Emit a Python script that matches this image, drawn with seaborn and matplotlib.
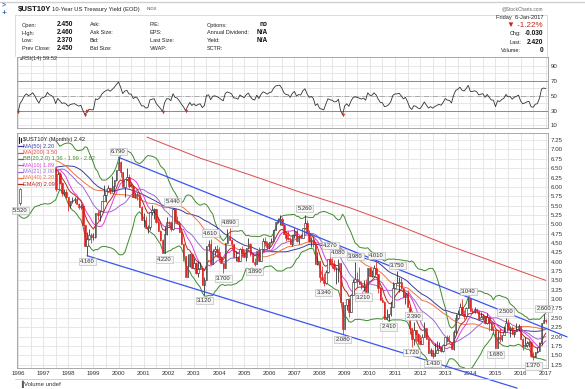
import numpy as np
import pandas as pd
import matplotlib
matplotlib.use("Agg")
import matplotlib.pyplot as plt
from matplotlib.lines import Line2D
import seaborn as sns

# %% data
# monthly closes before the drawn bars, only used to warm up the indicators (Jan 1993 - Jun 1997)
hist_close = [
    6.39, 6.03, 6.03, 6.05, 6.16, 5.80, 5.81, 5.45, 5.38, 5.43, 5.82, 5.79,
    5.75, 6.24, 6.74, 7.04, 7.15, 7.32, 7.11, 7.17, 7.60, 7.81, 7.91, 7.82,
    7.58, 7.20, 7.20, 7.06, 6.28, 6.20, 6.43, 6.28, 6.17, 6.02, 5.74, 5.57,
    5.58, 6.10, 6.33, 6.67, 6.85, 6.71, 6.79, 6.94, 6.72, 6.37, 6.06, 6.42,
    6.49, 6.55, 6.90, 6.72, 6.66, 6.50,
]
# the lone bar of Feb 1996: open, high, low, close
bar96 = [5.58, 5.98, 5.52, 5.95]

# monthly bars Jul 1997 - Jan 2017
close = [
    5.95, 6.34, 6.10, 5.83, 5.87, 5.74,
    5.51, 5.62, 5.65, 5.67, 5.55, 5.45, 5.49, 4.98, 4.42, 4.61, 4.71, 4.65,
    4.65, 5.29, 5.24, 5.35, 5.62, 5.78, 5.90, 5.97, 5.88, 6.02, 6.19, 6.44,
    6.67, 6.41, 6.00, 6.21, 6.27, 6.03, 6.03, 5.72, 5.80, 5.75, 5.47, 5.11,
    5.11, 4.90, 4.92, 5.34, 5.38, 5.41, 5.05, 4.83, 4.59, 4.23, 4.75, 5.05,
    5.03, 4.88, 5.40, 5.09, 5.04, 4.80, 4.46, 4.14, 3.60, 3.89, 4.21, 3.82,
    3.96, 3.69, 3.80, 3.84, 3.37, 3.52, 4.41, 4.46, 3.94, 4.29, 4.33, 4.25,
    4.13, 3.97, 3.84, 4.51, 4.65, 4.58, 4.48, 4.12, 4.12, 4.02, 4.35, 4.22,
    4.13, 4.36, 4.48, 4.20, 4.00, 3.94, 4.28, 4.02, 4.33, 4.56, 4.49, 4.39,
    4.52, 4.55, 4.85, 5.07, 5.12, 5.14, 4.99, 4.73, 4.63, 4.61, 4.46, 4.70,
    4.83, 4.56, 4.65, 4.63, 4.89, 5.03, 4.77, 4.54, 4.59, 4.48, 3.94, 4.03,
    3.59, 3.51, 3.43, 3.73, 4.06, 3.97, 3.95, 3.82, 3.83, 3.96, 2.92, 2.21,
    2.84, 3.01, 2.66, 3.12, 3.47, 3.53, 3.48, 3.40, 3.31, 3.39, 3.20, 3.83,
    3.61, 3.61, 3.83, 3.66, 3.29, 2.97, 2.91, 2.47, 2.51, 2.60, 2.80, 3.29,
    3.42, 3.42, 3.47, 3.29, 3.05, 3.16, 2.80, 2.22, 1.92, 2.17, 2.08, 1.88,
    1.80, 1.98, 2.22, 1.92, 1.56, 1.65, 1.47, 1.56, 1.63, 1.69, 1.61, 1.76,
    1.99, 1.88, 1.85, 1.67, 2.13, 2.49, 2.60, 2.78, 2.61, 2.55, 2.75, 3.04,
    2.67, 2.66, 2.73, 2.67, 2.48, 2.53, 2.56, 2.35, 2.52, 2.35, 2.18, 2.17,
    1.68, 2.00, 1.94, 2.05, 2.12, 2.35, 2.20, 2.22, 2.06, 2.16, 2.21, 2.27,
    1.94, 1.74, 1.78, 1.83, 1.85, 1.49, 1.46, 1.58, 1.60, 1.83, 2.37, 2.45,
    2.42,
]
high = [
    6.52, 6.40, 6.40, 6.12, 5.95, 5.93,
    5.74, 5.63, 5.74, 5.72, 5.73, 5.58, 5.53, 5.49, 4.98, 4.79, 4.88, 4.78,
    4.78, 5.29, 5.37, 5.37, 5.62, 6.06, 5.90, 6.04, 5.97, 6.30, 6.19, 6.44,
    6.79, 6.70, 6.41, 6.21, 6.50, 6.34, 6.10, 6.05, 5.86, 5.86, 5.81, 5.50,
    5.29, 5.21, 4.98, 5.34, 5.52, 5.43, 5.41, 5.17, 4.84, 4.60, 4.96, 5.20,
    5.10, 5.08, 5.44, 5.42, 5.22, 5.08, 4.88, 4.46, 4.16, 4.21, 4.21, 4.22,
    4.10, 4.00, 4.01, 4.00, 3.88, 3.58, 4.41, 4.59, 4.61, 4.33, 4.42, 4.45,
    4.38, 4.16, 3.97, 4.51, 4.87, 4.89, 4.61, 4.48, 4.28, 4.16, 4.36, 4.42,
    4.30, 4.36, 4.64, 4.50, 4.22, 4.10, 4.29, 4.39, 4.33, 4.64, 4.66, 4.55,
    4.52, 4.62, 4.85, 5.07, 5.18, 5.24, 5.20, 5.00, 4.81, 4.81, 4.65, 4.71,
    4.90, 4.88, 4.65, 4.74, 4.89, 5.26, 5.12, 4.85, 4.65, 4.69, 4.48, 4.25,
    4.03, 3.88, 3.70, 3.79, 4.06, 4.27, 4.10, 4.04, 3.87, 4.08, 3.96, 2.92,
    2.84, 3.01, 3.03, 3.12, 3.54, 3.98, 3.73, 3.85, 3.49, 3.52, 3.53, 3.84,
    3.85, 3.77, 3.90, 4.01, 3.66, 3.33, 3.06, 2.95, 2.74, 2.60, 2.93, 3.47,
    3.44, 3.75, 3.58, 3.57, 3.29, 3.16, 3.23, 2.80, 2.22, 2.39, 2.17, 2.09,
    2.05, 2.06, 2.38, 2.22, 1.96, 1.69, 1.65, 1.83, 1.87, 1.85, 1.74, 1.80,
    2.00, 2.04, 2.05, 1.86, 2.17, 2.61, 2.71, 2.90, 2.99, 2.70, 2.79, 3.04,
    3.03, 2.75, 2.80, 2.73, 2.66, 2.65, 2.59, 2.56, 2.63, 2.45, 2.39, 2.28,
    2.17, 2.15, 2.24, 2.05, 2.29, 2.50, 2.47, 2.28, 2.29, 2.16, 2.36, 2.33,
    2.27, 1.97, 1.98, 1.89, 1.87, 1.87, 1.58, 1.58, 1.73, 1.85, 2.37, 2.60,
    2.46,
]
low = [
    5.90, 5.93, 6.08, 5.76, 5.78, 5.71,
    5.36, 5.43, 5.57, 5.56, 5.53, 5.42, 5.40, 4.98, 4.42, 4.16, 4.59, 4.50,
    4.57, 4.62, 5.11, 5.08, 5.35, 5.62, 5.60, 5.85, 5.80, 5.85, 5.86, 6.16,
    6.44, 6.26, 6.00, 5.74, 6.20, 5.98, 5.99, 5.72, 5.69, 5.64, 5.47, 5.11,
    4.92, 4.90, 4.77, 4.86, 5.25, 5.14, 5.03, 4.83, 4.55, 4.23, 4.22, 4.72,
    4.95, 4.82, 4.85, 5.06, 5.02, 4.80, 4.46, 4.03, 3.60, 3.59, 3.87, 3.82,
    3.80, 3.66, 3.59, 3.80, 3.37, 3.12, 3.52, 4.30, 3.94, 3.93, 4.19, 4.12,
    4.00, 3.97, 3.70, 3.84, 4.50, 4.58, 4.35, 4.12, 4.02, 3.98, 4.01, 4.13,
    4.12, 4.01, 4.34, 4.16, 3.98, 3.89, 3.93, 4.02, 4.01, 4.32, 4.42, 4.33,
    4.33, 4.51, 4.54, 4.85, 5.03, 4.97, 4.99, 4.73, 4.56, 4.58, 4.46, 4.43,
    4.62, 4.52, 4.46, 4.63, 4.63, 4.88, 4.76, 4.52, 4.38, 4.39, 3.94, 3.91,
    3.45, 3.51, 3.34, 3.41, 3.69, 3.97, 3.83, 3.76, 3.41, 3.47, 2.92, 2.08,
    2.21, 2.72, 2.52, 2.66, 3.13, 3.47, 3.31, 3.40, 3.28, 3.21, 3.20, 3.20,
    3.61, 3.58, 3.60, 3.66, 3.17, 2.97, 2.91, 2.47, 2.51, 2.41, 2.54, 2.97,
    3.29, 3.42, 3.19, 3.29, 3.05, 2.88, 2.80, 2.08, 1.72, 1.77, 1.89, 1.80,
    1.80, 1.80, 1.98, 1.92, 1.56, 1.47, 1.43, 1.47, 1.59, 1.63, 1.59, 1.59,
    1.76, 1.86, 1.85, 1.67, 1.63, 2.08, 2.47, 2.57, 2.61, 2.47, 2.55, 2.78,
    2.67, 2.62, 2.63, 2.62, 2.45, 2.47, 2.44, 2.34, 2.34, 2.14, 2.17, 2.07,
    1.68, 1.68, 1.85, 1.87, 2.04, 2.18, 2.20, 2.00, 2.06, 1.99, 2.14, 2.15,
    1.94, 1.63, 1.73, 1.72, 1.71, 1.46, 1.37, 1.46, 1.55, 1.60, 1.78, 2.37,
    2.37,
]

# MA(200) (decimal year, value)
ma200_t = [2001.13, 2003.24, 2005.23, 2007.22, 2009.21, 2011.20, 2013.19, 2015.18, 2017.0]
ma200_v = [7.33, 6.77, 6.32, 5.86, 5.44, 4.95, 4.42, 3.94, 3.50]

# channel lines (start, end)
upper_t = [2000.0, 2017.85]
upper_v = [6.79, 1.99]
lower_t = [1998.75, 2015.86]
lower_v = [4.16, 0.62]

# labelled extremes
peak_t = [1996 + 1/12, 1998 + 9/12, 2000.0, 2001 + 10/12, 2002 + 2/12, 2003 + 5/12, 2003 + 8/12,
          2004 + 2/12, 2004 + 5/12, 2005 + 5/12, 2007 + 5/12, 2008 + 2/12, 2008 + 5/12, 2008 + 9/12,
          2008 + 11/12, 2009 + 5/12, 2009 + 9/12, 2010 + 3/12, 2010 + 9/12, 2011 + 1/12, 2011 + 8/12,
          2011 + 9/12, 2012 + 6/12, 2013 + 11/12, 2015.0, 2015 + 5/12, 2016 + 6/12, 2016 + 11/12]
peak_v = [5.52, 4.16, 6.79, 4.22, 5.44, 3.12, 4.61, 3.70, 4.89, 3.89, 5.26, 3.34, 4.27, 4.08,
          2.08, 3.98, 3.21, 4.01, 2.41, 3.75, 1.72, 2.39, 1.43, 3.04, 1.68, 2.50, 1.37, 2.60]
peak_up = [0, 0, 1, 0, 1, 0, 1, 0, 1, 0, 1, 0, 1, 1, 0, 1, 0, 1, 0, 1, 0, 1, 0, 1, 0, 1, 0, 1]

legend_rows = [
    ("MA(50) 2.20", "#3c3ca0"),
    ("MA(200) 3.50", "#e04848"),
    ("BB(20,2.0) 1.36 - 1.99 - 2.62", "#3f8a2e"),
    ("MA(10) 1.89", "#e03ee0"),
    ("MA(21) 2.00", "#9b6ad2"),
    ("MA(40) 2.20", "#ef7440"),
    ("EMA(8) 2.09", "#b8281c"),
]

# %% indicators
full = pd.Series(hist_close + close)
full_t = 1993 + np.arange(len(full)) / 12
ma10 = full.rolling(10).mean()
ma21 = full.rolling(21).mean()
ma40 = full.rolling(40).mean()
ma50 = full.rolling(50).mean()
ema8 = full.ewm(span=8, adjust=False).mean()
mid20 = full.rolling(20).mean()
sd20 = full.rolling(20).std(ddof=0)
bb_up = mid20 + 2 * sd20
bb_lo = mid20 - 2 * sd20
d = full.diff()
gain = d.clip(lower=0).ewm(alpha=1/14, adjust=False).mean()
loss = (-d.clip(upper=0)).ewm(alpha=1/14, adjust=False).mean()
rsi = 100 - 100 / (1 + gain / loss)

n0 = len(hist_close)
t = full_t[n0:]
c = np.array(close)
o = full.values[n0 - 1:-1]
h = np.maximum(np.array(high), np.maximum(o, c))
l = np.minimum(np.array(low), np.minimum(o, c))

# %% figure
W, H = 585, 389
sns.set_style("white")
plt.rcParams["font.family"] = ["Liberation Sans", "DejaVu Sans"]
fig = plt.figure(figsize=(W / 100, H / 100), dpi=100)


def fx(px):
    return px / W


def fy(py):
    return 1 - py / H


X0, X1 = 1995.96, 2017.09
ax_r = fig.add_axes([fx(17), fy(128), fx(548) - fx(17), (128 - 57) / H])
ax = fig.add_axes([fx(17), fy(368), fx(548) - fx(17), (368 - 133) / H])

for a in (ax, ax_r):
    a.set_xlim(X0, X1)
    a.set_xticks(np.arange(1996, 2018))
    a.set_xticks(np.arange(1996.5, 2017, 1), minor=True)
    a.grid(True, which="both", color="#e3e3e3", lw=0.6)
    a.set_axisbelow(True)
    for s in a.spines.values():
        s.set_color("#9a9a9a")
        s.set_linewidth(0.6)
    a.yaxis.tick_right()
    a.tick_params(length=0, labelsize=4.4, colors="#333333", pad=2)
    a.tick_params(which="minor", length=0)

# RSI panel
ax_r.set_ylim(6.5, 102)
ax_r.set_yticks([10, 30, 50, 70, 90])
ax_r.set_yticks([20, 40, 60, 80], minor=True)
ax_r.set_xticklabels([])
ax_r.axhline(70, color="#8c8c8c", lw=0.7)
ax_r.axhline(30, color="#8c8c8c", lw=0.7)
ax_r.axhline(50, color="#a0a0a0", lw=0.6, ls="-.")
sel = full_t >= 1996.0
sns.lineplot(x=full_t[sel], y=rsi[sel].values, ax=ax_r, color="#333333", lw=0.6,
             estimator=None, sort=False)
dip = sel & (rsi.values < 30)
ax_r.scatter(full_t[dip], rsi.values[dip], marker="v", s=6, color="#c0392b", zorder=4, lw=0)

# price panel
ax.set_ylim(1.158, 7.44)
ax.set_yticks(np.arange(1.25, 7.26, 0.25))
ax.set_yticklabels([f"{v:.2f}" for v in np.arange(1.25, 7.26, 0.25)])
ax.set_xticklabels([str(y) for y in range(1996, 2018)])

# bollinger lower band runs through the gap, the rest starts with the bars
g = full_t >= 1996.0
sns.lineplot(x=full_t[g], y=bb_lo[g].values, ax=ax, color="#3f8a2e", lw=0.7, estimator=None, sort=False)
s = full_t >= t[0]
for series, col in [(bb_up, "#3f8a2e"), (ma50, "#3c3ca0"), (ma40, "#ef7440"),
                    (ma21, "#9b6ad2"), (ma10, "#e03ee0"), (ema8, "#b8281c")]:
    sns.lineplot(x=full_t[s], y=series[s].values, ax=ax, color=col, lw=0.7,
                 estimator=None, sort=False, zorder=3)
sns.lineplot(x=ma200_t, y=ma200_v, ax=ax, color="#e04848", lw=0.7, estimator=None, sort=False)

# candles
bt = np.r_[1996 + 1/12, t]
bo = np.r_[bar96[0], o]
bh = np.r_[bar96[1], h]
bl = np.r_[bar96[2], l]
bc = np.r_[bar96[3], c]
up = bc >= bo
edge = np.where(up, "#222222", "#dd2020")
face = np.where(up, "#ffffff", "#dd2020")
ax.vlines(bt, bl, bh, colors=edge, lw=0.55, zorder=4)
body = np.maximum(np.abs(bc - bo), 0.012)
ax.bar(bt, body, bottom=np.minimum(bo, bc), width=0.058, color=face, edgecolor=edge,
       linewidth=0.4, zorder=5)

# channel lines, not clipped to the panel
ax.plot(upper_t, upper_v, color="#3a55f0", lw=0.9, clip_on=False, zorder=6)
ax.plot(lower_t, lower_v, color="#3a55f0", lw=0.9, clip_on=False, zorder=6)

# extreme labels
for pt, pv, pu in zip(peak_t, peak_v, peak_up):
    ax.annotate(f"{pv:.3f}", (pt, pv), xytext=(0, 4.2 if pu else -4.2), textcoords="offset points",
                ha="center", va="center", fontsize=4.2, color="#333333", zorder=7,
                bbox=dict(boxstyle="square,pad=0.2", fc="#f5f5f5", ec="#b0b0b0", lw=0.4))

# legends
fig.text(fx(23), fy(140), "$UST10Y (Monthly) 2.42", fontsize=4.1, color="#222222", va="center")
fig.add_artist(Line2D([fx(19), fx(19)], [fy(137), fy(143)], color="#222222", lw=0.8))
fig.add_artist(Line2D([fx(21), fx(21)], [fy(138), fy(142)], color="#222222", lw=0.8))
for i, (txt, col) in enumerate(legend_rows):
    yy = 146.3 + i * 6.3
    fig.add_artist(Line2D([fx(18), fx(22.5)], [fy(yy), fy(yy)], color=col, lw=0.9))
    fig.text(fx(23), fy(yy), txt, fontsize=4.1, color=col, va="center")

fig.text(fx(22.5), fy(58.5), "RSI(14) 59.52", fontsize=4.1, color="#333333", va="center")
fig.text(fx(18.5), fy(58.5), "\u25b2", fontsize=3.2, color="#3f8a2e", va="center")

# bottom strip
fig.add_artist(Line2D([fx(15), fx(548)], [fy(379), fy(379)], color="#c8c8c8", lw=0.6))
fig.text(fx(24), fy(384), "Volume undef", fontsize=4.3, color="#333333", va="center")
fig.text(fx(19), fy(384), "\u2590", fontsize=4, color="#555555", va="center")

# header
fig.add_artist(Line2D([0, 1], [fy(2), fy(2)], color="#cfcfcf", lw=1.0))
fig.text(fx(2), fy(6), ">", fontsize=5, color="#3a6fc0", va="center", weight="bold")
fig.text(fx(2), fy(14), "+", fontsize=6, color="#3a6fc0", va="center", weight="bold")
fig.text(fx(18), fy(9.5), "$UST10Y", fontsize=5.6, weight="bold", color="#111111", va="center")
fig.text(fx(52), fy(9.5), "10-Year US Treasury Yield (EOD)", fontsize=4.2, color="#222222", va="center")
fig.text(fx(147), fy(9.5), "INDX", fontsize=3.2, color="#444444", va="center")
fig.text(fx(543), fy(8.5), "@StockCharts.com", fontsize=3.4, color="#666666", va="center", ha="right")
fig.add_artist(Line2D([fx(15), fx(547)], [fy(14.5), fy(14.5)], color="#d5d5d5", lw=0.6))
fig.add_artist(Line2D([fx(15), fx(15)], [fy(14.5), fy(56)], color="#d5d5d5", lw=0.6))
fig.add_artist(Line2D([fx(547), fx(547)], [fy(14.5), fy(56)], color="#d5d5d5", lw=0.6))

rows_y = [25, 33, 41, 49]
col1 = [("Open:", "2.450"), ("High:", "2.460"), ("Low:", "2.370"), ("Prev Close:", "2.450")]
col2 = ["Ask:", "Ask Size:", "Bid:", "Bid Size:"]
col3 = ["P/E:", "EPS:", "Last Size:", "VWAP:"]
col4 = [("Options:", "no"), ("Annual Dividend:", "N/A"), ("Yield:", "N/A"), ("SCTR:", "")]
for yy, (lab, val), l2, l3, (l4, v4) in zip(rows_y, col1, col2, col3, col4):
    fig.text(fx(22), fy(yy), lab, fontsize=4.0, color="#222222", va="center")
    fig.text(fx(73), fy(yy), val, fontsize=4.7, color="#111111", va="center", ha="right", weight="bold")
    fig.text(fx(90), fy(yy), l2, fontsize=4.0, color="#222222", va="center")
    fig.text(fx(150), fy(yy), l3, fontsize=4.0, color="#222222", va="center")
    fig.text(fx(207), fy(yy), l4, fontsize=4.0, color="#222222", va="center")
    fig.text(fx(268), fy(yy), v4, fontsize=4.7, color="#111111", va="center", ha="right", weight="bold")

fig.text(fx(543), fy(17), "Friday  6-Jan-2017", fontsize=4.1, color="#222222", va="center", ha="right")
fig.text(fx(543), fy(25.5), "\u25bc -1.22%", fontsize=5.8, color="#c0281e", va="center", ha="right")
for yy, lab, val in [(33.5, "Chg:", "-0.030"), (42, "Last:", "2.420"), (50, "Volume:", "0")]:
    fig.text(fx(543), fy(yy), val, fontsize=4.7, color="#111111", va="center", ha="right", weight="bold")
    fig.text(fx(521), fy(yy), lab, fontsize=4.0, color="#222222", va="center", ha="right")

fig.savefig("out.png", dpi=100)
